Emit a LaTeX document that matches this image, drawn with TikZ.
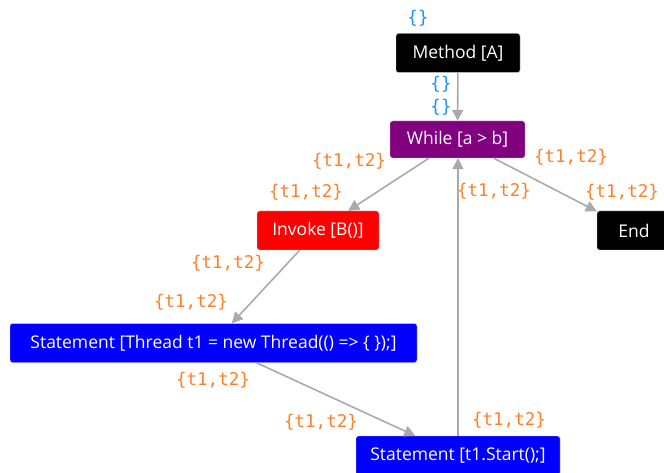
\documentclass[tikz,border=0pt]{standalone}
\usepackage{fontspec}
\setsansfont{Open Sans}
\setmonofont{DejaVu Sans Mono}
\usetikzlibrary{arrows.meta,positioning}

\definecolor{setorange}{RGB}{255,127,39}
\definecolor{setblue}{RGB}{30,144,255}
\definecolor{flowgray}{RGB}{170,170,170}
\definecolor{loopviolet}{RGB}{128,0,128}

\tikzset
{
    block/.style   = {rectangle, rounded corners=2.5pt, draw=black!20, text=white, align=center,
                      minimum height=39pt, inner sep=0pt, font=\sffamily\fontsize{17.5}{20}\selectfont},
    flow/.style    = {draw=flowgray, line width=1.6pt, -{Triangle[length=11pt,width=11pt]}},
    tset/.style    = {text=setorange, inner sep=0pt, font=\ttfamily\fontsize{17.5}{20}\selectfont},
    emptyset/.style= {text=setblue, inner sep=0pt, font=\ttfamily\fontsize{17.5}{20}\selectfont}
}

\begin{document}
\begin{tikzpicture}[x=1pt, y=-1pt]

   \clip (0,0) rectangle (664,473);

   % blocks of the flow graph
   \node (m)  [block, fill=black, minimum width=124pt]                      at (458, 53)    {Method [A]};
   \node (w)  [block, fill=loopviolet, minimum width=135pt, minimum height=37pt] at (457.5, 139.5) {While [a > b]};
   \node (iv) [block, fill=red, minimum width=122pt]                        at (318, 230.5) {Invoke [B()]};
   \node (e)  [block, fill=black, minimum width=74pt]                       at (634, 230.5) {End};
   \node (s1) [block, fill=blue, minimum width=407pt]                       at (213.5, 343) {Statement [Thread t1 = new Thread(() => \{ \});]};
   \node (s2) [block, fill=blue, minimum width=204pt]                       at (458, 455.5) {Statement [t1.Start();]};

   % thread sets on the edges
   \node (mIn)   [emptyset] at (418, 18)  {\{\}};
   \node (mOut)  [emptyset] at (441, 84)  {\{\}};
   \node (wIn)   [emptyset] at (441, 107) {\{\}};
   \node (wiOut) [tset]     at (349, 161) {\{t1,t2\}};
   \node (wiIn)  [tset]     at (306, 192) {\{t1,t2\}};
   \node (weOut) [tset]     at (571, 157) {\{t1,t2\}};
   \node (weIn)  [tset]     at (622, 192) {\{t1,t2\}};
   \node (swIn)  [tset]     at (494, 191) {\{t1,t2\}};
   \node (isOut) [tset]     at (228, 263) {\{t1,t2\}};
   \node (isIn)  [tset]     at (191, 302) {\{t1,t2\}};
   \node (ssOut) [tset]     at (213, 380) {\{t1,t2\}};
   \node (ssIn)  [tset]     at (321, 422) {\{t1,t2\}};
   \node (swOut) [tset]     at (509, 420) {\{t1,t2\}};

   \path
      (m)     edge[flow]  node {} (w)
      (w)     edge[flow]  node {} (iv)
      (w)     edge[flow]  node {} (e)
      (iv)    edge[flow]  node {} (s1)
      (s1)    edge[flow]  node {} (s2)
      (s2.north) edge[flow] node {} (s2.north |- w.south);
\end{tikzpicture}
\end{document}
